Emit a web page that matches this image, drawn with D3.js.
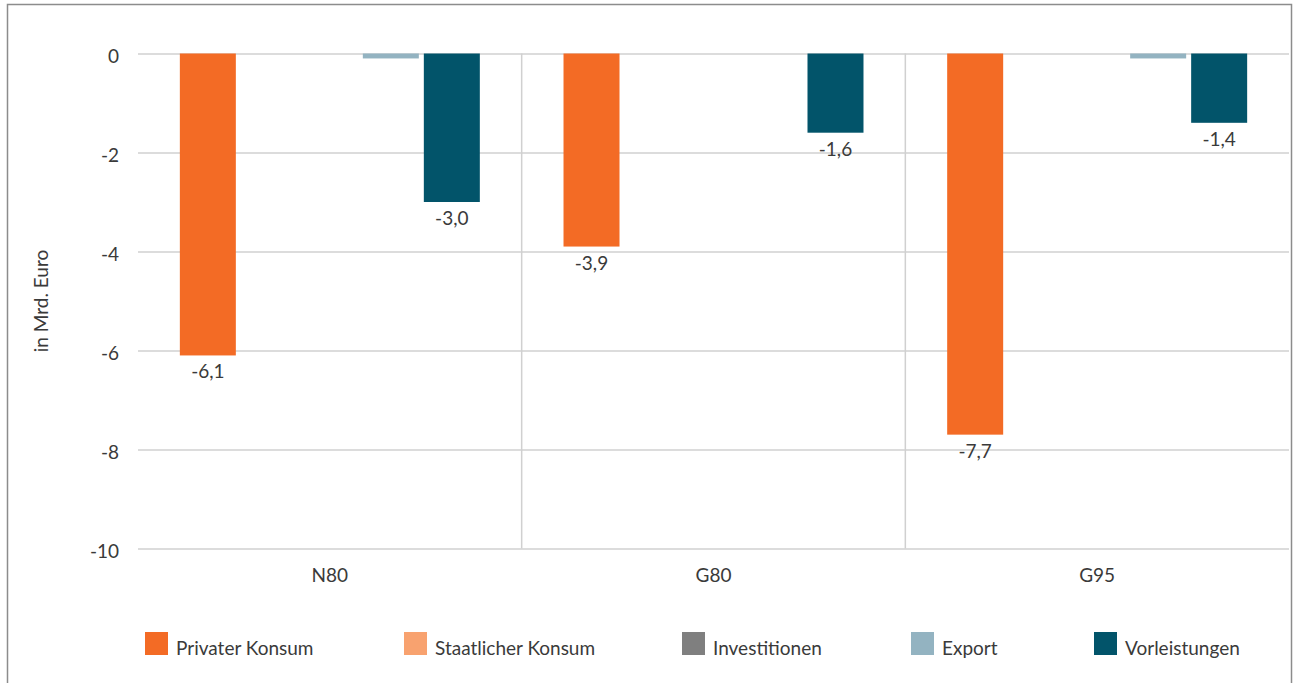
<!DOCTYPE html>
<html>
<head>
<meta charset="utf-8">
<script src="https://cdn.jsdelivr.net/npm/d3@7"></script>
<style>
  body { margin: 0; background: #fff; }
  text { font-family: Lato, sans-serif; fill: #3a3a3a; }
</style>
</head>
<body>
<svg width="1293" height="683"></svg>
<script>
const categories = ['N80', 'G80', 'G95'];
const seriesNames = ['Privater Konsum', 'Staatlicher Konsum', 'Investitionen', 'Export', 'Vorleistungen'];
const seriesColors = ['#f36b25', '#f8a26f', '#7f7f7f', '#93b3c1', '#02546a'];

const privaterKonsum = [-6.1, -3.9, -7.7];
const staatlicherKonsum = [0, 0, 0];
const investitionen = [0, 0, 0];
const exportValues = [-0.1, 0, -0.1];
const vorleistungen = [-3.0, -1.6, -1.4];

const yTicks = [0, -2, -4, -6, -8, -10];
// only these series get data labels in the original
const labelled = ['Privater Konsum', 'Vorleistungen'];

const seriesValues = [privaterKonsum, staatlicherKonsum, investitionen, exportValues, vorleistungen];

const svg = d3.select('svg');
const width = +svg.attr('width');
const height = +svg.attr('height');

const fontSize = 19;

// outer frame
svg.append('rect')
    .attr('x', 7.5).attr('y', 4.5)
    .attr('width', 1284).attr('height', 700)
    .attr('fill', 'none')
    .attr('stroke', '#8c8c8c')
    .attr('stroke-width', 1.5);

const margin = { top: 53.5, right: 4, bottom: 134.5, left: 138 };
const innerWidth = width - margin.left - margin.right;
const innerHeight = height - margin.top - margin.bottom;

const g = svg.append('g')
    .attr('transform', `translate(${margin.left}, ${margin.top})`);

const xScale = d3.scaleBand()
    .domain(categories)
    .range([0, innerWidth]);

const xInner = d3.scaleBand()
    .domain(seriesNames)
    .range([0, xScale.bandwidth()])
    .paddingInner(0.082)
    .paddingOuter(0.686);

const yScale = d3.scaleLinear()
    .domain([-10, 0])
    .range([innerHeight, 0]);

const color = d3.scaleOrdinal().domain(seriesNames).range(seriesColors);

// horizontal gridlines + tick labels
const yAxis = d3.axisLeft(yScale)
    .tickValues(yTicks)
    .tickSize(-innerWidth)
    .tickPadding(19)
    .tickFormat(d => d3.format('d')(d).replace('−', '-'));

const yAxisG = g.append('g').call(yAxis);
yAxisG.select('.domain').remove();
yAxisG.selectAll('.tick line').attr('stroke', '#d0d0d0').attr('stroke-width', 1.5);
yAxisG.selectAll('.tick text')
    .attr('font-size', fontSize)
    .attr('dy', '0.45em')
    .attr('fill', '#3a3a3a')
    .style('font-family', 'Lato, sans-serif');

// vertical separators between categories
g.selectAll('.sep').data(categories.slice(1))
    .enter().append('line')
        .attr('class', 'sep')
        .attr('x1', d => xScale(d))
        .attr('x2', d => xScale(d))
        .attr('y1', 0)
        .attr('y2', innerHeight)
        .attr('stroke', '#d0d0d0')
        .attr('stroke-width', 1.5);

// bars
const rows = [];
categories.forEach((c, i) => {
    seriesNames.forEach((s, j) => {
        rows.push({ category: c, series: s, value: seriesValues[j][i] });
    });
});

g.selectAll('.bar').data(rows)
    .enter().append('rect')
        .attr('class', 'bar')
        .attr('x', d => xScale(d.category) + xInner(d.series))
        .attr('y', d => yScale(Math.max(0, d.value)))
        .attr('width', xInner.bandwidth())
        .attr('height', d => Math.abs(yScale(d.value) - yScale(0)))
        .attr('fill', d => color(d.series));

// data labels
g.selectAll('.label').data(rows.filter(d => labelled.includes(d.series) && d.value !== 0))
    .enter().append('text')
        .attr('class', 'label')
        .attr('x', d => xScale(d.category) + xInner(d.series) + xInner.bandwidth() / 2)
        .attr('y', d => yScale(d.value) + 23)
        .attr('text-anchor', 'middle')
        .attr('font-size', fontSize)
        .text(d => d3.format('.1f')(d.value).replace('.', ',').replace('−', '-'));

// category labels
g.selectAll('.cat').data(categories)
    .enter().append('text')
        .attr('class', 'cat')
        .attr('x', d => xScale(d) + xScale.bandwidth() / 2)
        .attr('y', innerHeight + 33)
        .attr('text-anchor', 'middle')
        .attr('font-size', fontSize)
        .text(d => d);

// y axis title
g.append('text')
    .attr('transform', `translate(${48 - margin.left}, ${innerHeight / 2}) rotate(-90)`)
    .attr('text-anchor', 'middle')
    .attr('font-size', fontSize)
    .text('in Mrd. Euro');

// legend
const legendX = [145, 404, 682, 911, 1094];
const legend = svg.append('g');
const items = legend.selectAll('.item').data(seriesNames)
    .enter().append('g')
        .attr('class', 'item')
        .attr('transform', (d, i) => `translate(${legendX[i]}, 632)`);

items.append('rect')
    .attr('width', 23).attr('height', 23)
    .attr('fill', d => color(d));

items.append('text')
    .attr('x', 31)
    .attr('y', 22.5)
    .attr('font-size', fontSize)
    .text(d => d);
</script>
</body>
</html>
